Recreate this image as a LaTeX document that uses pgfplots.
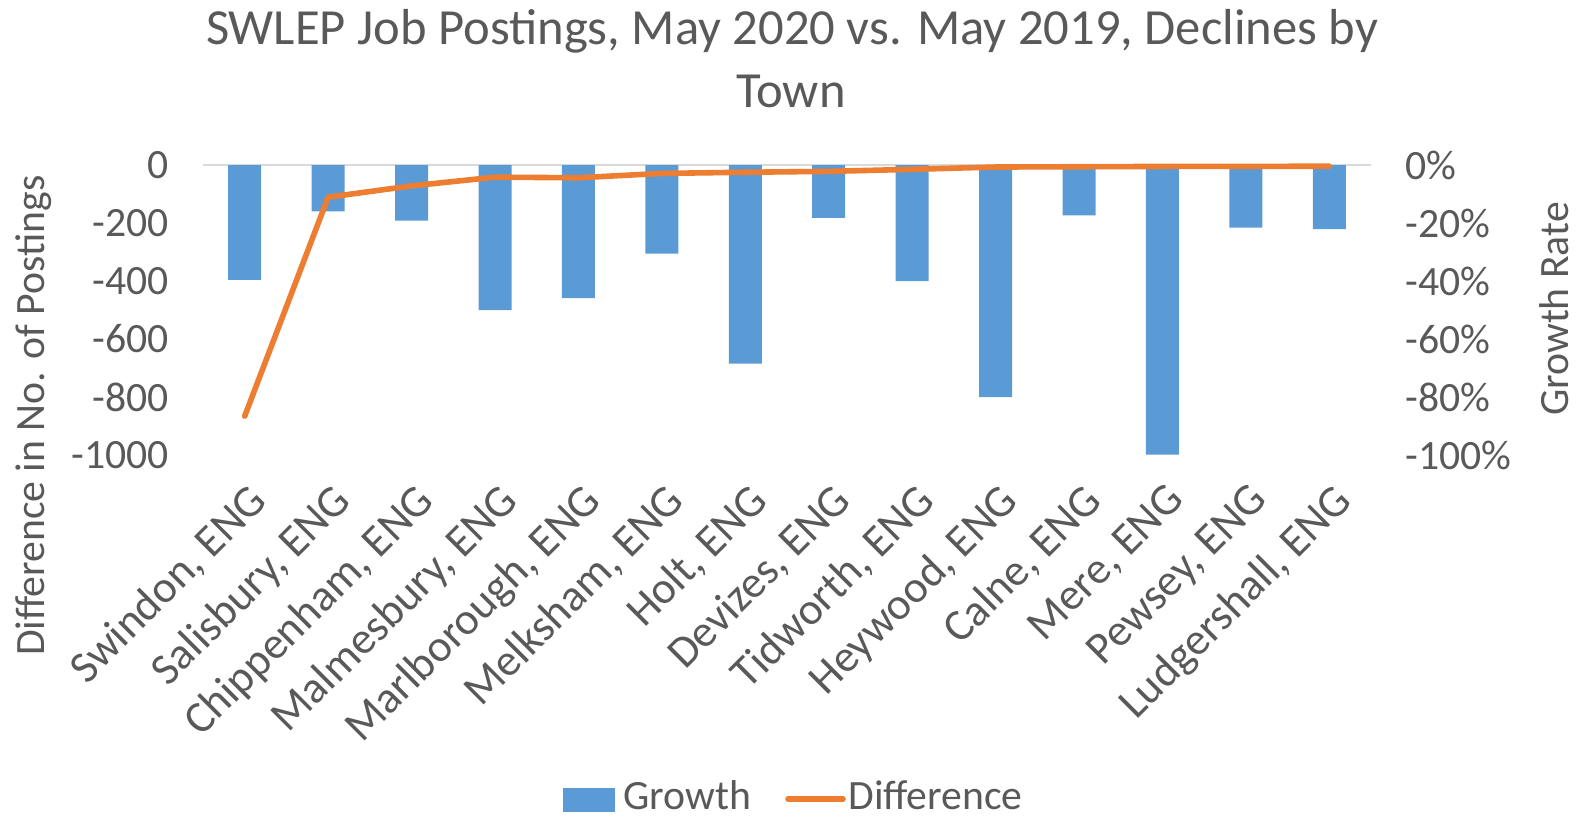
\documentclass[border=0pt]{standalone}
\usepackage{fontspec}
\setmainfont{Carlito}
\usepackage{pgfplots}
\pgfplotsset{compat=1.18}
\definecolor{barblue}{HTML}{5B9BD5}
\definecolor{lineorange}{HTML}{ED7D31}
\definecolor{txt}{HTML}{595959}
\definecolor{gridc}{HTML}{D9D9D9}
\newcommand{\lab}{\fontsize{20.85pt}{25pt}\selectfont}
\newcommand{\catlab}{\fontsize{22.4pt}{26pt}\selectfont}
\pgfplotsset{
  base/.style={
    scale only axis, width=584pt, height=145pt,
    at={(101.5pt,180.5pt)}, anchor=south west,
    xmin=-0.5, xmax=13.5,
    axis line style={draw=none}, major tick length=0pt, tick style={draw=none},
    tick label style={font=\lab, text=txt},
    clip=false,
  }
}
\begin{document}
\begin{tikzpicture}
\useasboundingbox (0,0) rectangle (790pt,408pt);
\clip (0,0) rectangle (790pt,408pt);
% Growth bars (right axis, percent)
\begin{axis}[base,
  ymin=-100, ymax=0,
  axis y line*=right, axis x line*=bottom,
  ytick={0,-20,-40,-60,-80,-100},
  yticklabels={0\%,-20\%,-40\%,-60\%,-80\%,-100\%},
  yticklabel style={anchor=west, xshift=13.6pt},
  extra y ticks={0}, extra y tick labels={},
  extra y tick style={grid=major, major grid style={draw=gridc, line width=0.8pt}},
  xtick={0,1,2,3,4,5,6,7,8,9,10,11,12,13},
  xticklabels={{Swindon, ENG},{Salisbury, ENG},{Chippenham, ENG},{Malmesbury, ENG},{Marlborough, ENG},{Melksham, ENG},{Holt, ENG},{Devizes, ENG},{Tidworth, ENG},{Heywood, ENG},{Calne, ENG},{Mere, ENG},{Pewsey, ENG},{Ludgershall, ENG}},
  xticklabel style={font=\catlab, rotate=45, anchor=north east, xshift=-5pt, yshift=-6.5pt},
]
\addplot[ybar, bar width=16.5pt, fill=barblue, draw=none] coordinates {
(0,-39.6) (1,-16.0) (2,-19.2) (3,-50.0) (4,-45.9) (5,-30.6) (6,-68.5)
(7,-18.2) (8,-40.0) (9,-80.0) (10,-17.4) (11,-99.9) (12,-21.6) (13,-22.1)};
\end{axis}
% Difference line (left axis)
\begin{axis}[base,
  ymin=-1000, ymax=0,
  axis y line*=left, hide x axis,
  ytick={0,-200,-400,-600,-800,-1000},
  yticklabels={0,-200,-400,-600,-800,-1000},
  yticklabel style={anchor=east, xshift=-13.6pt},
]
\addplot[draw=lineorange, line width=2.8pt, line join=round, line cap=round] coordinates {
(0,-866) (1,-111) (2,-72) (3,-42) (4,-44) (5,-29) (6,-25)
(7,-22) (8,-15) (9,-7) (10,-6) (11,-5) (12,-5) (13,-4)};
\end{axis}
% titles
\node[anchor=base, font=\fontsize{25.3pt}{30pt}\selectfont, text=txt, inner sep=0pt] at (396pt,385.5pt) {SWLEP Job Postings, May 2020 vs. May 2019, Declines by};
\node[anchor=base, font=\fontsize{25.3pt}{30pt}\selectfont, text=txt, inner sep=0pt] at (395.5pt,354pt) {Town};
\node[anchor=base, rotate=90, font=\lab, text=txt, inner sep=0pt] at (22pt,200.25pt) {Difference in No. of Postings};
\node[anchor=base, rotate=90, font=\lab, text=txt, inner sep=0pt] at (784pt,253.5pt) {Growth Rate};
% legend
\fill[barblue] (281.5pt,2pt) rectangle (307.5pt,14pt);
\node[anchor=base west, font=\lab, text=txt, inner sep=0pt] at (311.5pt,3.5pt) {Growth};
\draw[lineorange, line width=2.8pt, line cap=round] (394pt,8.5pt) -- (421.5pt,8.5pt);
\node[anchor=base west, font=\lab, text=txt, inner sep=0pt] at (424pt,3.5pt) {Difference};
\end{tikzpicture}
\end{document}
